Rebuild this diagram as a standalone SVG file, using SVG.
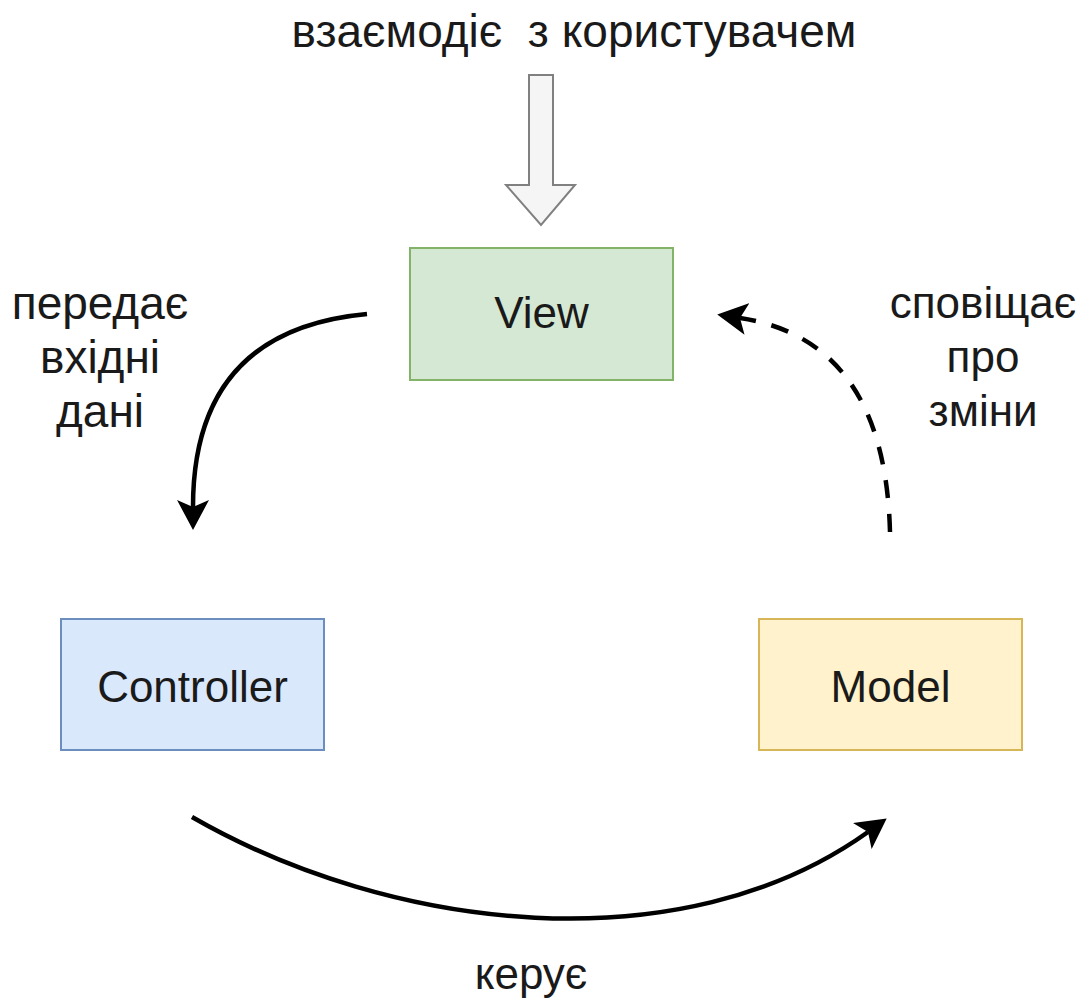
<svg xmlns="http://www.w3.org/2000/svg" width="1091" height="1002" viewBox="0 0 1091 1002">
<style>
.lbl{font-family:"Liberation Sans",Arial,sans-serif;font-size:46px;fill:#1a1a1a;text-anchor:middle}
.lbs{font-family:"Liberation Sans",Arial,sans-serif;font-size:44px;fill:#1a1a1a;text-anchor:middle}
.nt{font-family:"Liberation Sans",Arial,sans-serif;font-size:44px;fill:#1a1a1a;text-anchor:middle}
.edge{fill:none;stroke:#000;stroke-width:4.5}
</style>
<defs>
<marker id="ah" markerUnits="userSpaceOnUse" viewBox="0 -16 30 32" refX="7" refY="0" markerWidth="30" markerHeight="32" orient="auto">
<path d="M30 0 L0 -16 L7 0 L0 16 Z" fill="#000"/>
</marker>
</defs>
<rect width="1091" height="1002" fill="#fff"/>
<g id="user-arrow">
<path d="M529 75 L553 75 L553 185 L575 185 L541 225 L506 185 L529 185 Z" fill="#f5f5f5" stroke="#808080" stroke-width="2" stroke-linejoin="miter"/>
</g>
<g id="view"><rect x="410" y="248" width="263" height="132" fill="#d5e8d4" stroke="#82b366" stroke-width="2"/><text class="nt" x="541.5" y="328">View</text></g>
<g id="controller"><rect x="61" y="619" width="263" height="131" fill="#dae8fc" stroke="#6c8ebf" stroke-width="2"/><text class="nt" x="192.5" y="702">Controller</text></g>
<g id="model"><rect x="759" y="619" width="263" height="131" fill="#fff2cc" stroke="#d6b656" stroke-width="2"/><text class="nt" x="890.5" y="702">Model</text></g>
<g id="connectors">
<path class="edge" d="M367 314 Q193 330 193 507" marker-end="url(#ah)"/>
<path class="edge" d="M890 532 Q885 340 740 318" stroke-dasharray="18 16" marker-end="url(#ah)"/>
<path class="edge" d="M192 817 C392 932 681.7 965.4 868 832" marker-end="url(#ah)"/>
</g>
<g id="labels">
<text class="lbl" x="574" y="47">взаємодіє&#160; з користувачем</text>
<text class="lbl" x="100" y="319">передає</text>
<text class="lbl" x="100" y="373">вхідні</text>
<text class="lbl" x="100" y="427">дані</text>
<text class="lbs" x="983" y="318">сповіщає</text>
<text class="lbs" x="983" y="372">про</text>
<text class="lbs" x="983" y="426">зміни</text>
<text class="lbs" x="531" y="989">керує</text>
</g>
</svg>
